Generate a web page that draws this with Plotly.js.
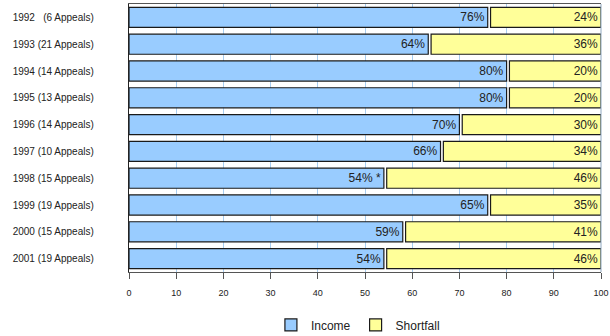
<!DOCTYPE html>
<html><head><meta charset="utf-8">
<script src="https://cdn.plot.ly/plotly-3.0.1.min.js"></script>
<style>html,body{margin:0;padding:0;background:#fff}#chart{width:610px;height:336px}</style>
</head><body><div id="chart"></div>
<script>
const categories = ["1992\u00a0\u00a0\u00a0(6 Appeals)", "1993 (21 Appeals)", "1994 (14 Appeals)", "1995 (13 Appeals)", "1996 (14 Appeals)", "1997 (10 Appeals)", "1998 (15 Appeals)", "1999 (19 Appeals)", "2000 (15 Appeals)", "2001 (19 Appeals)"];
const incomeValues = [76, 63.4, 80, 80, 70, 66, 54, 76, 58, 54];
const shortfallValues = [24, 36.6, 20, 20, 30, 34, 46, 24, 42, 46];
const incomeLabels = ["76%", "64%", "80%", "80%", "70%", "66%", "54% *", "65%", "59%", "54%"];
const shortfallLabels = ["24%", "36%", "20%", "20%", "30%", "34%", "46%", "35%", "41%", "46%"];
const xTicks = [0, 10, 20, 30, 40, 50, 60, 70, 80, 90, 100];

const GAP = 0.6;
const lineStyle = {color: '#1a1a1a', width: 1.2};
const txtFont = {family: 'Liberation Sans, Arial, sans-serif', size: 12, color: '#222'};

const traces = [
  {
    type: 'bar', orientation: 'h', name: 'Income',
    y: categories, x: incomeValues, base: 0,
    text: incomeLabels, textposition: 'inside', insidetextanchor: 'end',
    textfont: txtFont, constraintext: 'none', textangle: 0,
    marker: {color: '#99ccff', line: lineStyle},
    hoverinfo: 'none'
  },
  {
    type: 'bar', orientation: 'h', name: 'Shortfall',
    y: categories, x: shortfallValues.map(v => v - GAP),
    base: incomeValues.map(v => v + GAP),
    text: shortfallLabels, textposition: 'inside', insidetextanchor: 'end',
    textfont: txtFont, constraintext: 'none', textangle: 0,
    marker: {color: '#ffff99', line: lineStyle},
    hoverinfo: 'none'
  }
];

const layout = {
  width: 610, height: 336,
  margin: {l: 129, r: 9, t: 4, b: 64},
  paper_bgcolor: '#fff', plot_bgcolor: '#fff',
  barmode: 'overlay', bargap: 0.25,
  font: {family: 'Liberation Sans, Arial, sans-serif', color: '#222'},
  showlegend: true,
  legend: {orientation: 'h', x: 0.485, xanchor: 'center', xref: 'paper',
           y: 0.033, yref: 'container', yanchor: 'middle',
           font: {size: 12, color: '#222'}, itemwidth: 30, traceorder: 'normal'},
  xaxis: {
    range: [0, 100], tickvals: xTicks, ticktext: xTicks.map(String),
    showgrid: true, gridcolor: '#a8cdf0', gridwidth: 1,
    showline: true, linecolor: '#555', linewidth: 1.2, mirror: true,
    ticks: 'outside', ticklen: 6, tickcolor: '#555', tickwidth: 1,
    tickfont: {size: 9, color: '#222'}, ticklabelstandoff: 6,
    zeroline: false, fixedrange: true
  },
  yaxis: {
    type: 'category', categoryorder: 'array', categoryarray: categories,
    autorange: 'reversed',
    showline: true, linecolor: '#222', linewidth: 1.2,
    ticks: '', showgrid: false,
    tickfont: {size: 10, color: '#222'}, ticklabelstandoff: 32,
    fixedrange: true
  },
  shapes: [{type: 'line', xref: 'paper', yref: 'paper', x0: 1, x1: 1, y0: 0, y1: 1,
            line: {color: '#8fa8c0', width: 1}}]
};

Plotly.newPlot('chart', traces, layout, {staticPlot: true, displayModeBar: false});
</script></body></html>
